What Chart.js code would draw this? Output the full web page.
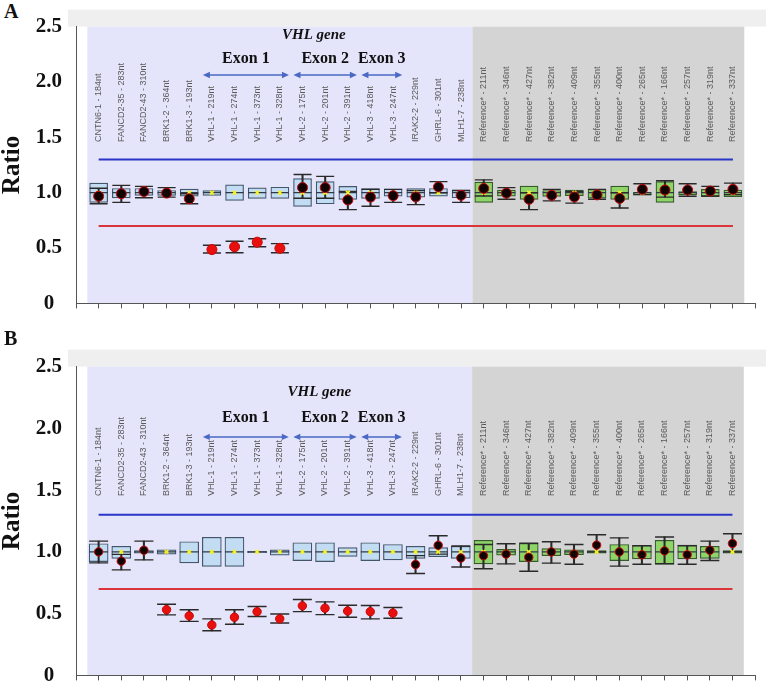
<!DOCTYPE html>
<html lang="en">
<head>
<meta charset="UTF-8">
<title>VHL MLPA ratio</title>
<script src="https://cdn.jsdelivr.net/npm/chart.js"></script>
<style>
  html, body { margin: 0; padding: 0; background: #fff; overflow: hidden; }
  body { width: 766px; height: 692px; position: relative; }
  .panel { position: absolute; left: 0; width: 766px; }
  .tag { position: absolute; left: 4px; font: bold 20px "Liberation Serif", serif; color: #111; line-height: 1; }
</style>
</head>
<body>
  <div class="tag" style="top:1px">A</div>
  <div class="panel" style="top:0; height:330px"><canvas id="chartA"></canvas></div>
  <div class="tag" style="top:328px">B</div>
  <div class="panel" style="top:340px; height:362px"><canvas id="chartB"></canvas></div>

<script>
// probes along the x axis
const probes = [
  "CNTN6-1 - 184nt", "FANCD2-35 - 283nt", "FANCD2-43 - 310nt", "BRK1-2 - 364nt", "BRK1-3 - 193nt",
  "VHL-1 - 219nt", "VHL-1 - 274nt", "VHL-1 - 373nt", "VHL-1 - 328nt",
  "VHL-2 - 175nt", "VHL-2 - 201nt", "VHL-2 - 391nt",
  "VHL-3 - 418nt", "VHL-3 - 247nt",
  "IRAK2-2 - 229nt", "GHRL-6 - 301nt", "MLH1-7 - 238nt",
  "Reference* - 211nt", "Reference* - 346nt", "Reference* - 427nt", "Reference* - 382nt",
  "Reference* - 409nt", "Reference* - 355nt", "Reference* - 400nt", "Reference* - 265nt",
  "Reference* - 166nt", "Reference* - 257nt", "Reference* - 319nt", "Reference* - 337nt"
];
const refStart = 17;           // first reference probe
const exonNames = ["Exon 1", "Exon 2", "Exon 3"];
const exonFirst = [5, 9, 12];
const exonLast = [8, 11, 13];
const upperLimit = 1.3;
const lowerLimit = 0.7;
const yTicks = [0, 0.5, 1.0, 1.5, 2.0, 2.5];

// panel A
const aBoxLow  = [0.912,0.953,0.976,0.975,0.968,0.976,0.931,0.948,0.948,0.876,0.90,0.94,0.948,0.968,0.96,0.968,0.954,0.912,0.968,0.94,0.966,0.973,0.95,0.94,0.98,0.912,0.98,0.965,0.965];
const aBoxHigh = [1.086,1.038,1.038,1.02,1.032,1.018,1.071,1.044,1.049,1.128,1.10,1.057,1.038,1.032,1.038,1.038,1.024,1.095,1.024,1.06,1.02,1.024,1.03,1.06,1.0,1.10,1.01,1.03,1.024];
const aMean    = [1.0,1.0,1.0,1.0,1.0,1.0,1.0,1.0,1.0,1.0,1.0,1.0,1.0,1.0,1.0,1.0,1.0,1.0,1.0,1.0,1.0,1.0,1.0,1.0,1.0,1.0,1.0,1.0,1.0];
const aRatio   = [0.968,0.99,1.01,0.996,0.945,0.486,0.511,0.553,0.497,1.046,1.046,0.934,0.96,0.973,0.962,1.052,0.976,1.038,0.996,0.94,0.976,0.962,0.98,0.948,1.03,1.024,1.024,1.015,1.03];
const aErrLow  = [0.90,0.912,0.954,0.96,0.90,0.455,0.458,0.511,0.458,0.95,0.95,0.847,0.878,0.912,0.892,1.0,0.912,0.97,0.94,0.847,0.926,0.906,0.94,0.861,0.982,0.96,0.968,0.97,0.982];
const aErrHigh = [1.04,1.066,1.057,1.046,0.99,0.525,0.561,0.584,0.54,1.164,1.147,1.01,1.03,1.03,1.02,1.10,1.02,1.116,1.046,1.0,1.03,1.01,1.03,1.0,1.08,1.108,1.08,1.057,1.086];

// panel B
const bBoxLow  = [0.921,0.948,0.99,0.982,0.911,0.882,0.882,0.993,0.974,0.929,0.921,0.964,0.929,0.935,0.948,0.961,0.948,0.903,0.974,0.921,0.969,0.977,0.99,0.929,0.943,0.898,0.943,0.948,0.99];
const bBoxHigh = [1.066,1.045,1.01,1.016,1.082,1.118,1.118,1.005,1.016,1.074,1.074,1.034,1.074,1.06,1.045,1.034,1.045,1.094,1.02,1.068,1.027,1.016,1.01,1.06,1.053,1.094,1.055,1.045,1.01];
const bMean    = [1.0,1.0,1.0,1.0,1.0,1.0,1.0,1.0,1.0,1.0,1.0,1.0,1.0,1.0,1.0,1.0,1.0,1.0,1.0,1.0,1.0,1.0,1.0,1.0,1.0,1.0,1.0,1.0,1.0];
const bRatio   = [1.0,0.925,1.013,0.532,0.482,0.408,0.471,0.516,0.458,0.563,0.544,0.521,0.516,0.505,0.898,1.053,0.95,0.969,0.982,0.956,1.0,0.982,1.055,1.0,0.977,1.008,0.977,1.013,1.068];
const bErrLow  = [0.911,0.854,0.935,0.49,0.437,0.361,0.414,0.477,0.424,0.516,0.492,0.471,0.458,0.463,0.825,0.982,0.877,0.864,0.903,0.843,0.909,0.90,1.0,0.885,0.90,0.905,0.90,0.93,1.0];
const bErrHigh = [1.087,0.98,1.087,0.576,0.532,0.458,0.532,0.558,0.497,0.615,0.595,0.568,0.566,0.55,0.97,1.131,1.047,1.06,1.066,1.07,1.082,1.06,1.139,1.113,1.05,1.121,1.05,1.087,1.147];

const serif = '"Liberation Serif", "Times New Roman", serif';
const sans = '"Liberation Sans", Arial, sans-serif';

const decor = {
  id: 'decor',
  beforeDraw(chart, args, o) {
    const { ctx, chartArea: ca, scales: { x } } = chart;
    ctx.save();
    ctx.fillStyle = '#efefef';
    ctx.fillRect(ca.left - 8, ca.top - 17, chart.width - ca.left + 8, 17);
    const x0 = x.getPixelForValue(-0.5);
    const x1 = x.getPixelForValue(refStart - 0.5);
    const x2 = x.getPixelForValue(probes.length - 0.5);
    ctx.fillStyle = '#e4e4fa';
    ctx.fillRect(x0, ca.top, x1 - x0, ca.bottom - ca.top);
    ctx.fillStyle = '#d4d4d4';
    ctx.fillRect(x1, ca.top, x2 - x1, ca.bottom - ca.top);
    ctx.restore();
  },
  afterDraw(chart, args, o) {
    const { ctx, scales: { x, y } } = chart;
    ctx.save();
    // probe names, rotated
    ctx.font = '9px ' + sans;
    ctx.fillStyle = '#5a5a5a';
    ctx.textAlign = 'left';
    ctx.textBaseline = 'middle';
    const yb = y.getPixelForValue(o.labelY);
    probes.forEach((p, i) => {
      ctx.save();
      ctx.translate(x.getPixelForValue(i), yb);
      ctx.rotate(-Math.PI / 2);
      ctx.fillText(p, 0, 0);
      ctx.restore();
    });
    // gene title
    ctx.fillStyle = '#111';
    ctx.textAlign = 'center';
    ctx.font = 'italic bold 15px ' + serif;
    ctx.fillText('VHL gene', x.getPixelForValue(o.geneX), y.getPixelForValue(o.geneY));
    // exons with double arrows
    ctx.font = 'bold 16px ' + serif;
    const ya = y.getPixelForValue(o.arrowY);
    exonNames.forEach((name, k) => {
      const xa = x.getPixelForValue(exonFirst[k] - 0.4);
      const xb = x.getPixelForValue(exonLast[k] + 0.4);
      ctx.fillStyle = '#111';
      ctx.fillText(name, (xa + xb) / 2, y.getPixelForValue(o.exonY));
      ctx.strokeStyle = '#4a68c4';
      ctx.fillStyle = '#4a68c4';
      ctx.lineWidth = 1.5;
      ctx.beginPath();
      ctx.moveTo(xa + 4, ya);
      ctx.lineTo(xb - 4, ya);
      ctx.stroke();
      [[xa, 1], [xb, -1]].forEach(([px, d]) => {
        ctx.beginPath();
        ctx.moveTo(px, ya);
        ctx.lineTo(px + 7 * d, ya - 3.2);
        ctx.lineTo(px + 7 * d, ya + 3.2);
        ctx.closePath();
        ctx.fill();
      });
    });
    ctx.restore();
  }
};

function makePanel(id, lo, hi, mean, ratio, eLo, eHi, boxW, dotR, pad, ann) {
  const idx = probes.map((_, i) => i);
  const isRef = i => i >= refStart;
  new Chart(document.getElementById(id), {
    type: 'bar',
    data: {
      datasets: [
        { type: 'line', data: [{ x: 0, y: upperLimit }, { x: probes.length - 1, y: upperLimit }],
          borderColor: '#2b35c8', borderWidth: 2, pointRadius: 0, order: 12 },
        { type: 'line', data: [{ x: 0, y: lowerLimit }, { x: probes.length - 1, y: lowerLimit }],
          borderColor: '#d9353a', borderWidth: 2, pointRadius: 0, order: 12 },
        { type: 'bar', data: idx.map(i => ({ x: i, y: [lo[i], hi[i]] })),
          backgroundColor: idx.map(i => isRef(i) ? '#8ed468' : '#c2ddf3'),
          borderColor: idx.map(i => isRef(i) ? '#355a2c' : '#44566a'),
          borderWidth: 1.2, borderSkipped: false, barThickness: boxW, grouped: false, order: 10 },
        { type: 'scatter', data: idx.map(i => ({ x: i, y: mean[i] })),
          pointStyle: 'line', pointRadius: boxW / 2, borderColor: '#2e3a48', borderWidth: 1.2, order: 8 },
        { type: 'bar', data: idx.map(i => ({ x: i, y: [eLo[i], eHi[i]] })),
          backgroundColor: '#2a2a2a', borderWidth: 0, barThickness: 1.4, grouped: false, order: 7 },
        { type: 'scatter', data: idx.flatMap(i => [{ x: i, y: eLo[i] }, { x: i, y: eHi[i] }]),
          pointStyle: 'line', pointRadius: boxW / 2, borderColor: '#2a2a2a', borderWidth: 1.4, order: 6 },
        { type: 'scatter', data: idx.map(i => ({ x: i, y: mean[i] })),
          pointStyle: 'crossRot', pointRadius: 2.6, borderColor: '#f4f02a', borderWidth: 1.8, order: 2 },
        { type: 'scatter', data: idx.map(i => ({ x: i, y: ratio[i] })),
          pointRadius: dotR,
          backgroundColor: idx.map(i => ratio[i] < lowerLimit ? '#e8100c' : '#120404'),
          borderColor: '#c80808', borderWidth: 1, order: 1 }
      ]
    },
    options: {
      responsive: true,
      maintainAspectRatio: false,
      animation: false,
      events: [],
      layout: { padding: pad },
      plugins: { legend: { display: false }, tooltip: { enabled: false }, decor: ann },
      scales: {
        x: {
          type: 'linear', min: -1, max: probes.length, offset: false,
          ticks: { display: false, stepSize: 1 },
          grid: { offset: false, drawOnChartArea: false, drawTicks: true, tickLength: 5, color: '#555' },
          border: { display: true, color: '#555', width: 1 }
        },
        y: {
          min: 0, max: 2.5,
          afterBuildTicks: s => { s.ticks = yTicks.map(v => ({ value: v })); },
          afterFit: s => { s.width = 76; },
          ticks: {
            crossAlign: 'center', padding: 14, color: '#111',
            font: { family: serif, size: 21, weight: 'bold' },
            callback: v => v === 0 ? '0' : v.toFixed(1)
          },
          grid: { display: false, drawTicks: false },
          border: { display: true, color: '#555', width: 1 },
          title: { display: true, text: 'Ratio', color: '#111', padding: 0,
                   font: { family: serif, size: 25, weight: 'bold', lineHeight: 1 } }
        }
      }
    },
    plugins: [decor]
  });
}

makePanel('chartA', aBoxLow, aBoxHigh, aMean, aRatio, aErrLow, aErrHigh, 18, 5,
  { left: 0, right: 7, top: 16.5, bottom: 11.5 },
  { labelY: 1.458, geneX: 9.5, geneY: 2.42, exonY: 2.213, arrowY: 2.063 });
makePanel('chartB', bBoxLow, bBoxHigh, bMean, bRatio, bErrLow, bErrHigh, 19, 4.2,
  { left: 0, right: 7, top: 26, bottom: 12 },
  { labelY: 1.453, geneX: 9.75, geneY: 2.294, exonY: 2.087, arrowY: 1.931 });
</script>
</body>
</html>
